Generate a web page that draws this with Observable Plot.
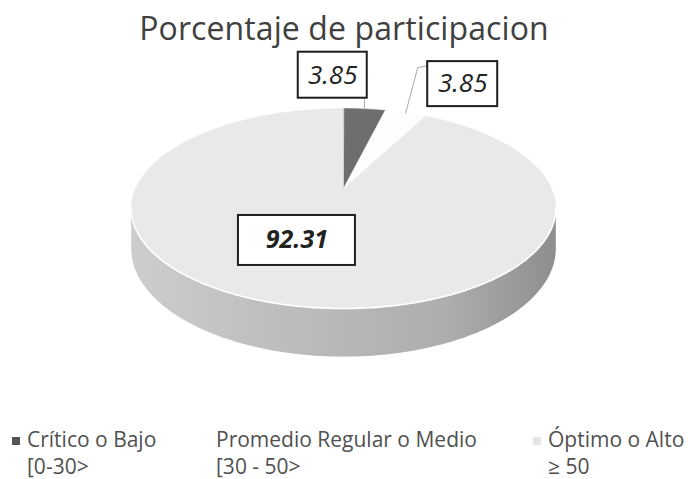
<!DOCTYPE html>
<html>
<head>
<meta charset="utf-8">
<script src="https://cdn.jsdelivr.net/npm/d3@7"></script>
<script src="https://cdn.jsdelivr.net/npm/@observablehq/plot@0.6"></script>
<style>
  html, body { margin: 0; padding: 0; background: #fff; }
  body { width: 688px; height: 479px; overflow: hidden; position: relative; font-family: "Open Sans", sans-serif; }
  #title { position: absolute; left: 0; top: 0; width: 688px; height: 52px; text-align: center;
           font-size: 32px; line-height: 56px; color: #404040; letter-spacing: 0.1px; }
  #chart { position: absolute; left: 0; top: 52px; }
  .leg { position: absolute; top: 426px; font-size: 21px; line-height: 27px; color: #505050; white-space: nowrap; }
  .sw { position: absolute; width: 8px; height: 8px; }
</style>
</head>
<body>
<div id="title">Porcentaje de participacion</div>
<div id="chart"></div>
<div id="legend"></div>
<script>
// ---- data ----
const categories = ["Crítico o Bajo", "Promedio Regular o Medio", "Óptimo o Alto"];
const ranges = ["[0-30>", "[30 - 50>", "≥ 50"];
const values = [3.85, 3.85, 92.31];
const valueLabels = ["3.85", "3.85", "92.31"];

// ---- style / layout ----
const sliceColors = ["#6e6e6e", "#fdfdfd", "#e9e9e9"];
const legendColors = ["#555555", "#ffffff", "#e6e6e6"];
const legendLeft = [12, 216, 533];
const W = 688, H = 350;
const cx = 343, cy = 136, R = 208, RY = 96, K = 0.2, DEPTH = 38.5;
const labelRho = [1.45, 1.45, 0.45];
const labelNudge = [[-39, -6], [35, -2], [-22, 6]];
const labelBox = [[69, 46], [70, 45], [117, 50]];
const labelWeight = ["normal", "normal", "bold"];

function proj(a, rho = 1, drop = 0) {
  const u = rho * Math.sin(a), v = rho * Math.cos(a), s = 1 / (1 + K * v);
  return [cx + R * u * s, cy - RY * v * s + drop * s];
}

const arcs = d3.pie().sort(null).value(d => d)(values);

// slice polygons on the top face
const slicePts = [];
arcs.forEach((arc, i) => {
  slicePts.push({i, x: cx, y: cy});
  const n = Math.max(8, Math.ceil((arc.endAngle - arc.startAngle) / 0.01));
  for (let j = 0; j <= n; j++) {
    const a = arc.startAngle + (arc.endAngle - arc.startAngle) * j / n;
    const [x, y] = proj(a);
    slicePts.push({i, x, y});
  }
});

// side wall (front half, belongs to the big slice)
const aR = Math.acos(-K), aL = 2 * Math.PI - Math.acos(-K);
const sidePts = [], rimPts = [];
const ns = 200;
for (let j = 0; j <= ns; j++) {
  const a = aR + (aL - aR) * j / ns;
  const [x, y] = proj(a);
  sidePts.push({x, y});
  rimPts.push({x, y});
}
for (let j = ns; j >= 0; j--) {
  const a = aR + (aL - aR) * j / ns;
  const [x, y] = proj(a, 1, DEPTH);
  sidePts.push({x, y});
}

// labels
const labels = arcs.map((arc, i) => {
  const mid = (arc.startAngle + arc.endAngle) / 2;
  const [x, y] = proj(mid, labelRho[i]);
  return {i, text: valueLabels[i], x: x + labelNudge[i][0], y: y + labelNudge[i][1],
          w: labelBox[i][0], h: labelBox[i][1], weight: labelWeight[i], mid};
});

// leader lines
const leaders = [];
{
  const L0 = labels[0], [ex, ey] = proj(L0.mid, 1);
  leaders.push({k: 0, x: ex, y: L0.y + L0.h / 2});
  leaders.push({k: 0, x: ex, y: ey});
  const L1 = labels[1], [fx, fy] = proj(L1.mid, 1);
  leaders.push({k: 1, x: L1.x - L1.w / 2, y: L1.y - L1.h / 2 + 4});
  leaders.push({k: 1, x: L1.x - L1.w / 2 - 10, y: L1.y - L1.h / 2 + 6});
  leaders.push({k: 1, x: fx, y: fy});
}

const marks = [
  Plot.line(sidePts, {x: "x", y: "y", curve: "linear-closed", fill: "url(#sideGrad)", stroke: "none"}),
  ...arcs.map((arc, i) => Plot.line(slicePts.filter(d => d.i === i),
      {x: "x", y: "y", curve: "linear-closed", fill: sliceColors[i], stroke: sliceColors[i], strokeWidth: 0.5})),
  Plot.line(rimPts, {x: "x", y: "y", stroke: "#ffffff", strokeWidth: 1.6}),
  Plot.line(leaders, {x: "x", y: "y", z: "k", stroke: "#a8a8a8", strokeWidth: 1}),
  Plot.rect(labels, {x1: d => d.x - d.w / 2, x2: d => d.x + d.w / 2, y1: d => d.y - d.h / 2, y2: d => d.y + d.h / 2,
      fill: "#ffffff", stroke: "#1e1e1e", strokeWidth: 2}),
  Plot.text(labels.filter(d => d.weight === "normal"), {x: "x", y: "y", text: "text", fontSize: 26,
      fontStyle: "italic", fill: "#222", fontFamily: "Open Sans"}),
  Plot.text(labels.filter(d => d.weight === "bold"), {x: "x", y: "y", text: "text", fontSize: 25,
      fontStyle: "italic", fontWeight: "bold", fill: "#222", fontFamily: "Open Sans"})
];

const svg = Plot.plot({
  width: W, height: H, margin: 0,
  x: {domain: [0, W], range: [0, W], axis: null},
  y: {domain: [0, H], range: [0, H], axis: null},
  style: {background: "transparent", overflow: "visible"},
  marks
});
svg.insertAdjacentHTML("afterbegin",
  `<defs><linearGradient id="sideGrad" x1="0" x2="1" y1="0" y2="0">
     <stop offset="0" stop-color="#cdcdcd"/>
     <stop offset="0.35" stop-color="#bdbdbd"/>
     <stop offset="0.75" stop-color="#adadad"/>
     <stop offset="1" stop-color="#8e8e8e"/>
   </linearGradient></defs>`);
document.getElementById("chart").appendChild(svg);

// legend
const leg = document.getElementById("legend");
categories.forEach((c, i) => {
  const d = document.createElement("div");
  d.className = "leg";
  d.style.left = (legendLeft[i] + (i === 1 ? 0 : 15)) + "px";
  d.innerHTML = `${c}<br>${ranges[i]}`;
  leg.appendChild(d);
  if (i !== 1) {
    const s = document.createElement("div");
    s.className = "sw";
    s.style.left = legendLeft[i] + "px";
    s.style.top = "437px";
    s.style.background = legendColors[i];
    leg.appendChild(s);
  }
});
</script>
</body>
</html>
